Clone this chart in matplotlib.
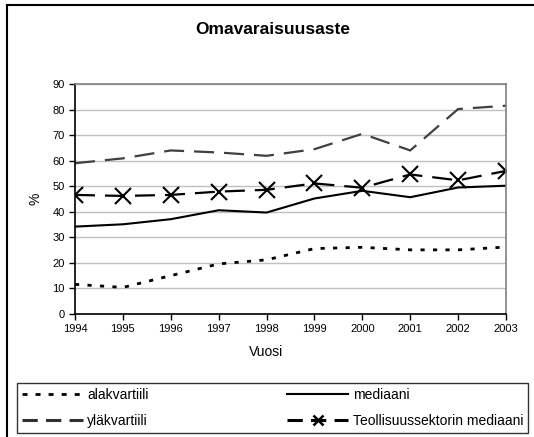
import matplotlib
matplotlib.use("Agg")
import matplotlib.pyplot as plt
from matplotlib.lines import Line2D

plt.rcParams['font.family'] = ['Liberation Sans', 'DejaVu Sans']

vuodet = [1994, 1995, 1996, 1997, 1998, 1999, 2000, 2001, 2002, 2003]
alakvartiili = [11.6, 10.4, 15.0, 19.6, 21.2, 25.6, 26.1, 25.1, 25.1, 26.2]
ylakvartiili = [59.0, 60.9, 64.0, 63.2, 61.9, 64.5, 70.5, 64.0, 80.2, 81.5]
mediaani = [34.2, 35.1, 37.1, 40.6, 39.7, 45.2, 48.2, 45.7, 49.5, 50.2]
teollisuus = [46.6, 46.2, 46.6, 47.9, 48.6, 51.1, 49.4, 54.6, 52.3, 56.0]
nimet = ['alakvartiili', 'yläkvartiili', 'mediaani', 'Teollisuussektorin mediaani']

tyylit = [
    dict(color='black', lw=2, linestyle=(0, (1.5, 3))),
    dict(color='#404040', lw=1.6, linestyle=(0, (9, 4.5))),
    dict(color='black', lw=1.5, linestyle='-'),
    dict(color='black', lw=1.6, linestyle=(0, (9, 4.5)), marker='x',
         markeredgewidth=1.5),
]

fig = plt.figure(figsize=(5.34, 4.37), dpi=100)
ax = fig.add_axes([75/534, 1 - 314/437, 431/534, 230/437])

for arvot, nimi, tyyli in zip([alakvartiili, ylakvartiili, mediaani, teollisuus],
                              nimet, tyylit):
    ax.plot(vuodet, arvot, label=nimi, markersize=12, **tyyli)

ax.set_xlim(1994, 2003)
ax.set_ylim(0, 90)
ax.set_xticks(vuodet)
ax.set_yticks(range(0, 91, 10))
ax.tick_params(labelsize=8, length=4, width=1, direction='out')
ax.yaxis.grid(True, color='#c0c0c0', lw=1)
ax.set_axisbelow(True)
for s in ['top', 'right']:
    ax.spines[s].set_color('#808080')
    ax.spines[s].set_linewidth(1.2)
for s in ['left', 'bottom']:
    ax.spines[s].set_color('black')
    ax.spines[s].set_linewidth(1.2)

ax.set_xlabel('Vuosi', fontsize=10)
ax.xaxis.set_label_coords((266 - 75) / 431, -(352 - 314) / 230)
ax.xaxis.label.set_va('center')
ax.set_ylabel('%', fontsize=10)
ax.yaxis.set_label_coords(-(75 - 36) / 431, 0.5)
ax.yaxis.label.set_va('center')
fig.text(273/534, 1 - 30/437, 'Omavaraisuusaste', ha='center', va='center',
         fontsize=12.5, fontweight='bold')

# ulkokehys
fig.add_artist(Line2D([7/534, 7/534], [0, 1 - 5/437], color='black', lw=1.5,
                      transform=fig.transFigure))
fig.add_artist(Line2D([7/534, 1], [1 - 5/437, 1 - 5/437], color='black', lw=1.5,
                      transform=fig.transFigure))

# selitteen kahvat: paksummat viivat ja pienempi merkki kuin kuvaajassa
kahvat = [
    Line2D([], [], color='black', lw=2, linestyle=(0, (1.8, 2.9))),
    Line2D([], [], color='#303030', lw=2.2, linestyle=(0, (5, 2.7))),
    Line2D([], [], color='black', lw=1.5),
    Line2D([], [], color='black', lw=2.2, linestyle=(0, (5, 2.7)),
           marker='x', markersize=7, markeredgewidth=1.8),
]

leg = fig.legend(kahvat, nimet, ncol=2, mode='expand', loc='lower left',
                 bbox_to_anchor=(17/534, 1 - 433/437, 511/534, 46/437),
                 fontsize=10, frameon=True, fancybox=False, borderaxespad=0,
                 handlelength=4.4, handletextpad=0.3, labelspacing=0.9,
                 borderpad=0.35)
leg.get_frame().set_edgecolor('black')
leg.get_frame().set_linewidth(1)

fig.savefig('out.png', dpi=100)
